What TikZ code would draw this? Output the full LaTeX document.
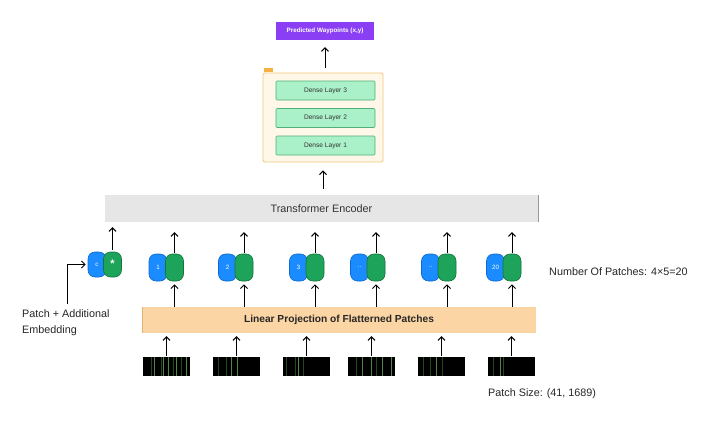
\documentclass[tikz,border=0pt]{standalone}
\usepackage{fontspec}
\setmainfont{Liberation Sans}
\usetikzlibrary{arrows.meta,calc}
\definecolor{purpleP}{RGB}{138,63,245}
\definecolor{denseF}{RGB}{170,240,200}
\definecolor{denseD}{RGB}{80,175,120}
\definecolor{outerF}{RGB}{255,247,232}
\definecolor{outerD}{RGB}{242,200,121}
\definecolor{tagF}{RGB}{245,176,65}
\definecolor{transF}{RGB}{230,230,230}
\definecolor{linF}{RGB}{252,213,165}
\definecolor{linD}{RGB}{225,175,120}
\definecolor{blueP}{RGB}{26,140,255}
\definecolor{blueD}{RGB}{12,105,205}
\definecolor{greenP}{RGB}{30,164,90}
\definecolor{greenD}{RGB}{18,118,60}
\definecolor{stripeA}{RGB}{80,135,70}
\definecolor{stripeB}{RGB}{38,70,34}
\begin{document}
\begin{tikzpicture}[x=1pt,y=-1pt,
  arr/.style={draw=black, line width=1pt, -{Straight Barb[length=3.5pt,width=7pt]}},
  pred/.style={fill=purpleP, minimum width=98pt, minimum height=18pt, inner sep=0pt, text=white, font=\bfseries\fontsize{6.3}{7}\selectfont},
  outerbox/.style={draw=outerD, fill=outerF, line width=0.8pt, rounded corners=1.5pt, minimum width=120pt, minimum height=89pt, inner sep=0pt},
  tagbox/.style={fill=tagF, minimum width=9pt, minimum height=4pt, inner sep=0pt},
  dense/.style={draw=denseD, fill=denseF, line width=0.6pt, rounded corners=1pt, minimum width=99pt, minimum height=19pt, inner sep=0pt, text=black!80, font=\fontsize{6.6}{7}\selectfont},
  trans/.style={fill=transF, minimum width=433pt, minimum height=27pt, inner sep=0pt, text=black!80, font=\fontsize{10.8}{12}\selectfont},
  lin/.style={fill=linF, minimum width=394pt, minimum height=26pt, inner sep=0pt, text=black!85, font=\bfseries\fontsize{10.2}{12}\selectfont},
  bpill/.style={draw=blueD, fill=blueP, line width=0.6pt, rounded corners=7pt, minimum width=18pt, minimum height=27pt, inner sep=0pt, text=white, font=\fontsize{6.2}{7}\selectfont},
  gpill/.style={draw=greenD, fill=greenP, line width=0.6pt, rounded corners=7pt, minimum width=18pt, minimum height=27pt, inner sep=0pt, text=white, font=\bfseries\fontsize{11}{11}\selectfont},
  patch/.style={fill=black, minimum width=47pt, minimum height=19pt, inner sep=0pt},
  note/.style={inner sep=0pt, text=black!85, font=\fontsize{10.8}{16}\selectfont}
]
\useasboundingbox[fill=white] (0,0) rectangle (713,421);

% head
\node[pred] (pred) at (325,31) {Predicted Waypoints (x,y)};
\node[outerbox] (outer) at (323,117.5) {};
\node[tagbox] (tag) at (268.5,69.5) {};
\node[dense] (d3) at (325.5,90.5) {Dense Layer 3};
\node[dense] (d2) at (325.5,118) {Dense Layer 2};
\node[dense] (d1) at (325.5,145.5) {Dense Layer 1};
\draw[arr, shorten <=5pt, shorten >=7pt] (outer.north -| pred.south) -- (pred.south);

% transformer
\node[trans] (tr) at (321.5,208.5) {Transformer Encoder};
\draw[black!40, line width=0.8pt] (tr.north east) -- (tr.south east);
\draw[arr, shorten <=6pt, shorten >=8pt] (tr.north -| outer.south) -- (outer.south);

% linear projection
\node[lin] (lin) at (339,320) {Linear Projection of Flatterned Patches};
\draw[linD, line width=0.6pt] (lin.north west) -- (lin.south west);

% class token
\node[bpill, minimum height=25pt] (b0) at (97,264.5) {c};
\node[gpill, minimum height=25pt] (g0) at (112.5,264.5) {\raisebox{2pt}{*}};
\draw[arr, shorten <=2pt, shorten >=5pt] (g0.north) -- (g0.north |- tr.south);

% patch tokens
\foreach \i/\b/\t in {1/158/1, 2/227.5/2, 3/298.5/3, 4/359.5/.., 5/430.5/.., 6/495.5/20}{
  \node[bpill] (b\i) at (\b,267.5) {\t};
  \node[gpill] (g\i) at ({\b+16.5},267.5) {};
  \draw[arr, shorten <=1pt, shorten >=10pt] (g\i.north) -- (g\i.north |- tr.south);
  \draw[arr, shorten >=3pt] (lin.north -| g\i.north) -- (g\i.south);
}

% patches
\foreach \i/\c in {1/166.5, 2/236.5, 3/306.5, 4/371.5, 5/441.5, 6/511.5}{
  \node[patch] (p\i) at (\c,366.5) {};
  \draw[arr, shorten <=1pt, shorten >=3pt] (p\i.north) -- (p\i.north |- lin.south);
}
% stripes
\begin{scope}[line width=0.7pt]
\foreach \x/\c in {9/stripeB, 11.3/stripeA, 19/stripeB, 20.7/stripeA, 25.7/stripeA, 30.7/stripeB, 34/stripeA, 39/stripeB, 44/stripeA}
  \draw[\c] ($(p1.north west)+(\x,0.5)$) -- ($(p1.south west)+(\x,-0.5)$);
\foreach \x/\c in {5.7/stripeB, 14/stripeB, 19/stripeA, 24.7/stripeA}
  \draw[\c] ($(p2.north west)+(\x,0.5)$) -- ($(p2.south west)+(\x,-0.5)$);
\foreach \x/\c in {4/stripeB, 13/stripeB, 15.7/stripeA, 20.7/stripeB}
  \draw[\c] ($(p3.north west)+(\x,0.5)$) -- ($(p3.south west)+(\x,-0.5)$);
\foreach \x/\c in {8.3/stripeB, 15/stripeA, 23.3/stripeA, 28.3/stripeB, 35/stripeA, 43.3/stripeA}
  \draw[\c] ($(p4.north west)+(\x,0.5)$) -- ($(p4.south west)+(\x,-0.5)$);
\foreach \x/\c in {5.7/stripeB, 12.3/stripeB, 19/stripeA, 24.7/stripeB}
  \draw[\c] ($(p5.north west)+(\x,0.5)$) -- ($(p5.south west)+(\x,-0.5)$);
\foreach \x/\c in {5.7/stripeB, 12.3/stripeA, 15.7/stripeB}
  \draw[\c] ($(p6.north west)+(\x,0.5)$) -- ($(p6.south west)+(\x,-0.5)$);
\end{scope}

% labels
\node[note, anchor=north west, align=left] (lab) at (22,309) {Patch + Additional\\Embedding};
\coordinate (lt) at (67,304);
\draw[arr, shorten >=2pt] (lt) |- (b0.west);
\node[note, anchor=west] (np) at (549,272) {Number Of Patches: 4×5=20};
\node[note, anchor=west] (ps) at (488,394) {Patch Size: (41, 1689)};
\end{tikzpicture}
\end{document}
